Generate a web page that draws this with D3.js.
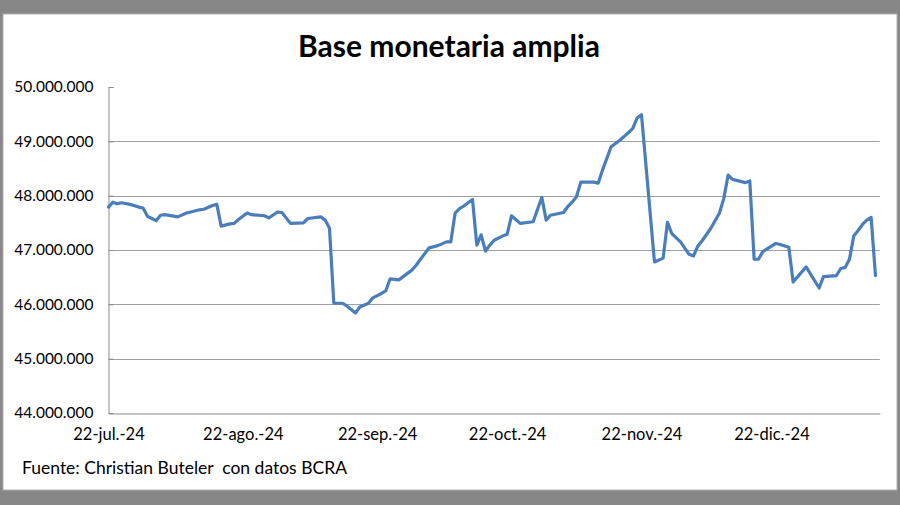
<!DOCTYPE html>
<html>
<head>
<meta charset="utf-8">
<script src="https://cdn.jsdelivr.net/npm/d3@7"></script>
<style>
  html, body { margin: 0; padding: 0; background: #878787; }
  svg { display: block; }
  text { font-family: Lato, "Open Sans", sans-serif; fill: #000; }
</style>
</head>
<body>
<svg id="chart" width="900" height="505"></svg>
<script>
// ---- data ----
const dates = [
  "2024-07-22","2024-07-23","2024-07-24","2024-07-25","2024-07-27","2024-07-29","2024-07-30","2024-07-31",
  "2024-08-01","2024-08-02","2024-08-03","2024-08-04","2024-08-07","2024-08-09","2024-08-10","2024-08-12",
  "2024-08-13","2024-08-15","2024-08-16","2024-08-17","2024-08-19","2024-08-20","2024-08-21","2024-08-23",
  "2024-08-24","2024-08-27","2024-08-28","2024-08-30","2024-08-31","2024-09-02","2024-09-05","2024-09-06",
  "2024-09-09","2024-09-10","2024-09-11","2024-09-12","2024-09-14","2024-09-15","2024-09-17","2024-09-18",
  "2024-09-20","2024-09-21","2024-09-23","2024-09-24","2024-09-25","2024-09-27","2024-09-30","2024-10-01",
  "2024-10-02","2024-10-04","2024-10-06","2024-10-08","2024-10-09","2024-10-10","2024-10-11","2024-10-12",
  "2024-10-14","2024-10-15","2024-10-16","2024-10-17","2024-10-18","2024-10-19","2024-10-21","2024-10-22",
  "2024-10-23","2024-10-25","2024-10-28","2024-10-30","2024-10-31","2024-11-01","2024-11-04","2024-11-05",
  "2024-11-06","2024-11-07","2024-11-08","2024-11-11","2024-11-12","2024-11-13","2024-11-15","2024-11-17",
  "2024-11-19","2024-11-20","2024-11-21","2024-11-22","2024-11-25","2024-11-27","2024-11-28","2024-11-29",
  "2024-12-01","2024-12-03","2024-12-04","2024-12-05","2024-12-06","2024-12-08","2024-12-10","2024-12-11",
  "2024-12-12","2024-12-13","2024-12-16","2024-12-17","2024-12-18","2024-12-19","2024-12-20","2024-12-23",
  "2024-12-24","2024-12-26","2024-12-27","2024-12-30","2025-01-02","2025-01-03","2025-01-06","2025-01-07",
  "2025-01-08","2025-01-09","2025-01-10","2025-01-11","2025-01-12","2025-01-13","2025-01-14","2025-01-15"
];
const values = [
  47790000,47880000,47850000,47870000,47840000,47790000,47770000,47620000,
  47580000,47540000,47640000,47650000,47610000,47680000,47700000,47740000,
  47750000,47820000,47840000,47440000,47480000,47490000,47560000,47680000,
  47650000,47630000,47590000,47700000,47690000,47490000,47500000,47580000,
  47610000,47550000,47400000,46020000,46020000,45970000,45840000,45950000,
  46020000,46120000,46200000,46250000,46470000,46450000,46630000,46720000,
  46830000,47040000,47080000,47150000,47150000,47680000,47760000,47810000,
  47930000,47090000,47280000,46980000,47090000,47180000,47260000,47290000,
  47630000,47490000,47520000,47970000,47550000,47640000,47690000,47800000,
  47880000,47980000,48250000,48250000,48230000,48470000,48900000,49020000,
  49160000,49240000,49430000,49490000,46780000,46850000,47510000,47300000,
  47150000,46920000,46890000,47070000,47170000,47400000,47680000,47950000,
  48380000,48300000,48240000,48270000,46830000,46830000,46970000,47120000,
  47100000,47050000,46410000,46690000,46300000,46510000,46530000,46660000,
  46680000,46830000,47260000,47360000,47470000,47550000,47600000,46530000
];
const yTicks = [44000000,45000000,46000000,47000000,48000000,49000000,50000000];
const xTickDates = ["2024-07-22","2024-08-22","2024-09-22","2024-10-22","2024-11-22","2024-12-22"];
const xTickLabels = ["22-jul.-24","22-ago.-24","22-sep.-24","22-oct.-24","22-nov.-24","22-dic.-24"];
const title = "Base monetaria amplia";
const source = "Fuente: Christian Buteler  con datos BCRA";

// ---- drawing ----
const parse = d3.utcParse("%Y-%m-%d");
const data = dates.map((d, i) => ({ date: parse(d), value: values[i] }));

const svg = d3.select("#chart");
// white card inside grey frame
svg.append("rect").attr("x", 3).attr("y", 14).attr("width", 894).attr("height", 476)
  .attr("fill", "#ffffff").attr("stroke", "#b0b0b0").attr("stroke-width", 1);

const x = d3.scaleUtc()
  .domain([parse("2024-07-22"), parse("2025-01-16")])
  .range([108.5, 879.8]);
const y = d3.scaleLinear().domain([44000000, 50000000]).range([413, 87]);

const loc = d3.formatLocale({ decimal: ",", thousands: ".", grouping: [3], currency: ["$", ""] });
const fmt = loc.format(",.0f");

// gridlines
svg.append("g").selectAll("line")
  .data(yTicks.filter(v => v > 44000000 && v < 50000000))
  .join("line")
  .attr("x1", x.range()[0]).attr("x2", x.range()[1])
  .attr("y1", d => Math.round(y(d)) + 0.5).attr("y2", d => Math.round(y(d)) + 0.5)
  .attr("stroke", "#a0a0a0").attr("stroke-width", 1);

// y axis
const yAxis = svg.append("g")
  .attr("transform", `translate(${Math.round(x.range()[0]) - 0.5},0)`)
  .call(d3.axisLeft(y).tickValues(yTicks).tickFormat(fmt).tickSize(-5).tickPadding(15));
yAxis.select(".domain").attr("stroke", "#8c8c8c");
yAxis.selectAll(".tick line").attr("stroke", "#8c8c8c");
yAxis.selectAll("text").style("font-size", "15.5px").attr("fill", "#111");

// x axis
const xAxis = svg.append("g")
  .attr("transform", `translate(0,${Math.round(y(44000000)) + 0.5})`)
  .call(d3.axisBottom(x).tickValues(xTickDates.map(parse))
    .tickFormat((d, i) => xTickLabels[i]).tickSize(0).tickPadding(15));
xAxis.select(".domain").attr("stroke", "#8c8c8c");
xAxis.selectAll("text").style("font-size", "16.5px").attr("fill", "#111");

// line
const line = d3.line().x(d => x(d.date)).y(d => y(d.value));
svg.append("path").datum(data)
  .attr("d", line)
  .attr("fill", "none")
  .attr("stroke", "#4A7EBB")
  .attr("stroke-width", 3.2)
  .attr("stroke-linejoin", "round")
  .attr("stroke-linecap", "round");

// title
svg.append("text").attr("x", 449).attr("y", 57)
  .attr("text-anchor", "middle")
  .style("font-size", "30px").style("font-weight", "bold")
  .text(title);

// source
svg.append("text").attr("x", 22).attr("y", 474)
  .style("font-size", "17.5px").style("white-space", "pre")
  .attr("xml:space", "preserve")
  .text(source);
</script>
</body>
</html>
